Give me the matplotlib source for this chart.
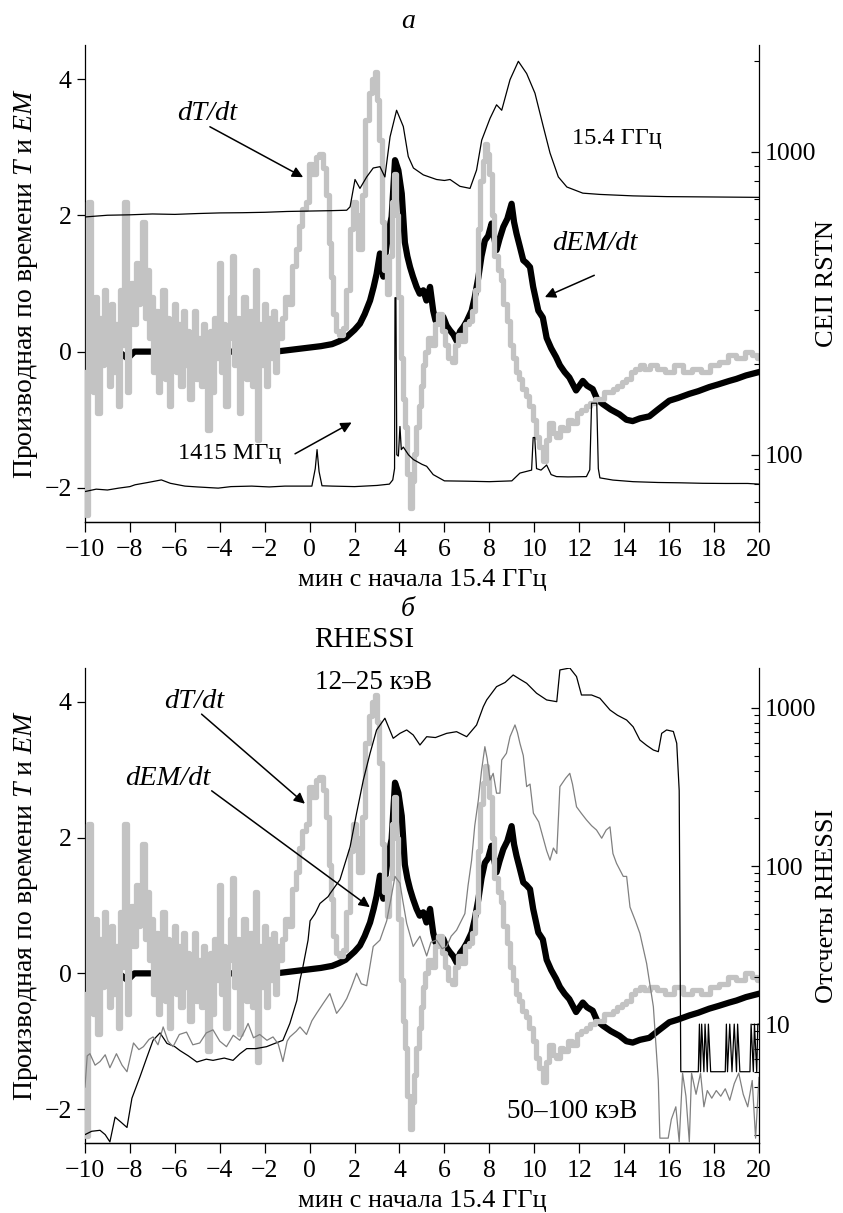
import numpy as np
import matplotlib.pyplot as plt

plt.rcParams['font.family'] = ['Liberation Serif', 'DejaVu Serif']
plt.rcParams['mathtext.fontset'] = 'custom'
plt.rcParams['mathtext.rm'] = 'Liberation Serif'
plt.rcParams['mathtext.it'] = 'Liberation Serif:italic'
plt.rcParams['font.size'] = 18.5
plt.rcParams['axes.linewidth'] = 0.9

# ---- dT/dt (left axis, both panels) ----
# noisy pre-flare part, one sample every 0.1 min from -10
dT_noise_t0, dT_noise_step = -10.0, 0.1
dT_noise = [-0.3, -2.4, 2.2, 0.2, -0.6, 0.8, -0.9, 0.5, -0.2, 0.9,
            0.3, -0.5, 0.7, -0.3, 0.4, -0.8, 0.9, 0.1, 2.2, -0.6,
            0.6, 1.0, 0.4, 1.3, 0.7, 1.1, 1.9, 0.5, 1.2, 0.2,
            0.8, -0.3, 0.6, -0.6, 0.3, 0.9, -0.4, 0.5, -0.8, 0.2,
            0.7, -0.3, 0.4, -0.5, 0.6, -0.2, 0.3, -0.7, 0.1, 0.6,
            -0.4, 0.2, -0.5, 0.4, -0.2, -1.15, 0.3, -0.6, 0.5, -0.1,
            1.3, -0.3, 0.4, -0.8, 0.2, 0.8, 1.4, -0.2, 0.5, -0.9,
            0.3, 0.8, -0.4, 0.2, 0.6, -0.5, 1.2, -1.3, 0.4, -0.2,
            0.7, -0.5, 0.5, -0.1, 0.6, -0.3, 0.4]
dT_t = [-1.3, -1.15, -1.0, -0.85, -0.7, -0.55, -0.4, -0.25, -0.1, 0.05,
        0.2, 0.35, 0.5, 0.65, 0.8, 0.9, 1.0, 1.1, 1.25, 1.4,
        1.55, 1.7, 1.85, 2.0, 2.1, 2.25, 2.4, 2.55, 2.7, 2.85,
        2.95, 3.05, 3.15, 3.25, 3.4, 3.5, 3.6, 3.7, 3.8, 3.9,
        4.0, 4.1, 4.2, 4.3, 4.4, 4.5, 4.6, 4.7, 4.8, 4.9,
        5.0, 5.1, 5.2, 5.35, 5.5, 5.65, 5.8, 5.95, 6.1, 6.25,
        6.4, 6.55, 6.7, 6.85, 7.0, 7.15, 7.3, 7.45, 7.55, 7.65,
        7.75, 7.85, 7.95, 8.05, 8.15, 8.3, 8.45, 8.55, 8.7, 8.85,
        9.0, 9.1, 9.25, 9.4, 9.55, 9.7, 9.85, 10.0, 10.15, 10.3,
        10.45, 10.6, 10.75, 10.9, 11.05, 11.2, 11.4, 11.6, 11.8, 12.0,
        12.2, 12.4, 12.6, 12.8, 13.0, 13.2, 13.4, 13.6, 13.8, 14.0,
        14.2, 14.4, 14.6, 14.8, 15.0, 15.3, 15.6, 16.0, 16.4, 16.8,
        17.2, 17.6, 18.0, 18.4, 18.8, 19.2, 19.6, 19.8, 20.0]
dT_v = [0.2, 0.5, 0.8, 0.7, 1.25, 1.5, 1.85, 2.1, 2.2, 2.75,
        2.6, 2.85, 2.9, 2.7, 2.3, 1.6, 1.1, 0.55, 0.3, 0.25,
        0.35, 0.9, 1.8, 2.2, 2.0, 1.5, 2.3, 3.4, 3.8, 4.0,
        4.1, 3.7, 3.1, 1.9, 1.2, 0.85, 1.4, 2.2, 2.6, 2.0,
        0.8, -0.1, -0.7, -1.1, -1.8, -2.3, -1.9, -1.5, -1.1, -0.8,
        -0.5, -0.2, 0.0, 0.2, 0.1, 0.4, 0.55, 0.3, 0.1, -0.1,
        -0.15, 0.1, 0.25, 0.15, 0.4, 0.45, 0.6, 0.9, 1.8, 2.5,
        2.8, 3.05, 2.9, 2.6, 2.0, 1.4, 1.2, 1.05, 0.7, 0.45,
        0.1, -0.1, -0.3, -0.4, -0.55, -0.65, -0.8, -1.0, -1.25, -1.4,
        -1.6, -1.3, -1.05, -1.2, -1.25, -1.1, -1.15, -1.0, -1.05, -0.9,
        -0.85, -0.8, -0.75, -0.7, -0.7, -0.6, -0.6, -0.55, -0.5, -0.45,
        -0.4, -0.3, -0.25, -0.2, -0.25, -0.2, -0.25, -0.3, -0.2, -0.3,
        -0.25, -0.3, -0.2, -0.15, -0.05, -0.1, 0.0, -0.05, -0.1]

# ---- dEM/dt (left axis, both panels) ----
dEM_t = [-9.5, -9.0, -8.5, -8.1, -7.8, -7.0, -6.0, -5.0, -4.0, -3.0,
         -2.0, -1.5, -1.0, -0.5, 0.0, 0.5, 1.0, 1.3, 1.6, 1.8,
         2.0, 2.24, 2.45, 2.69, 2.85, 2.98, 3.13, 3.28, 3.4, 3.5,
         3.65, 3.8, 3.95, 4.1, 4.24, 4.35, 4.47, 4.6, 4.76, 4.9,
         5.06, 5.2, 5.36, 5.5, 5.6, 5.8, 5.95, 6.1, 6.25, 6.4,
         6.54, 6.7, 6.84, 7.0, 7.21, 7.35, 7.51, 7.65, 7.8, 7.95,
         8.1, 8.2, 8.32, 8.45, 8.62, 8.8, 8.99, 9.1, 9.21, 9.35,
         9.51, 9.65, 9.81, 9.95, 10.18, 10.38, 10.55, 10.75, 10.97, 11.14,
         11.35, 11.56, 11.86, 12.16, 12.35, 12.6, 12.8, 13.05, 13.4, 13.79,
         14.1, 14.38, 14.7, 15.12, 15.5, 16.01, 16.4, 16.9, 17.3, 17.79,
         18.2, 18.68, 19.0, 19.42, 20.0]
dEM_v = [0.0, 0.0, 0.0, -0.1, 0.0, 0.0, 0.0, 0.0, 0.0, 0.0,
         0.0, 0.0, 0.02, 0.04, 0.06, 0.08, 0.11, 0.15, 0.2, 0.26,
         0.32, 0.41, 0.55, 0.75, 0.95, 1.14, 1.44, 1.1, 1.5, 1.73,
         1.98, 2.81, 2.66, 2.32, 1.6, 1.4, 1.24, 1.1, 0.95, 0.85,
         0.9, 0.75, 0.95, 0.6, 0.46, 0.45, 0.51, 0.38, 0.31, 0.25,
         0.16, 0.3, 0.36, 0.45, 0.6, 0.8, 1.09, 1.4, 1.63, 1.7,
         1.88, 1.7, 1.49, 1.65, 1.83, 1.95, 2.17, 1.9, 1.73, 1.55,
         1.34, 1.3, 1.24, 0.95, 0.6, 0.5, 0.2, 0.05, -0.08, -0.2,
         -0.3, -0.38, -0.57, -0.43, -0.5, -0.55, -0.7, -0.77, -0.85, -0.92,
         -1.0, -1.02, -0.98, -0.95, -0.85, -0.72, -0.68, -0.62, -0.58, -0.52,
         -0.48, -0.43, -0.4, -0.35, -0.3]

# ---- RSTN 15.4 GHz (right axis, sfu) ----
f15_t = [-10, -9, -8, -7, -6, -5, -4, -3, -2, -1,
         0, 1, 1.65, 1.8, 2.02, 2.24, 2.54, 2.83, 3.13, 3.35,
         3.58, 3.87, 4.17, 4.39, 4.62, 5.06, 5.65, 6.0, 6.25, 6.69,
         7.14, 7.43, 7.66, 8.03, 8.32, 8.55, 8.92, 9.29, 9.66, 10.03,
         10.4, 10.7, 11.07, 11.45, 12.16, 12.92, 14.4, 15.9, 18.0, 20.0]
f15_v = [610, 618, 620, 624, 622, 626, 629, 630, 632, 636,
         638, 640, 642, 659, 811, 758, 827, 885, 894, 827,
         1122, 1373, 1213, 966, 885, 840, 811, 805, 811, 770,
         758, 871, 1094, 1291, 1431, 1373, 1733, 1992, 1815, 1563,
         1213, 992, 827, 766, 731, 724, 716, 712, 710, 708]

# ---- RSTN 1415 MHz (right axis, sfu) ----
f1415_t = [-10, -9.5, -9, -8.5, -8, -7.77, -7.2, -6.6, -6.2, -5.55,
           -5, -4.07, -3.5, -2.58, -1.8, -1.1, 0.1, 0.25, 0.33, 0.42,
           0.55, 1.0, 2.0, 3.0, 3.55, 3.7, 3.78, 3.8, 3.84, 3.88,
           3.95, 4.02, 4.08, 4.17, 4.4, 4.62, 5.0, 5.21, 5.5, 6.0,
           7.0, 8.0, 9.0, 9.36, 9.88, 9.95, 10.02, 10.1, 10.3, 10.55,
           10.75, 10.99, 11.5, 12.32, 12.47, 12.55, 12.78, 12.85, 12.92, 13.5,
           14.4, 15.5, 16.5, 17.5, 18.5, 19.5, 20.0]
f1415_v = [75.6, 77, 76.5, 77.6, 78.5, 79.6, 81, 82.6, 80.5, 78.8,
           78.3, 77.6, 78.5, 78.8, 78.3, 78.8, 78.8, 90, 104, 88,
           79, 78.8, 78.5, 79.2, 80, 82.6, 90, 330, 330, 100,
           99, 124, 104, 106, 100, 96.4, 93, 91.6, 86, 82,
           81.8, 81.5, 82, 87, 89, 114, 114, 90, 89, 92.5,
           86, 84.7, 84.5, 84.7, 89.2, 148, 148, 90, 83.9, 82.5,
           81.5, 81, 80.8, 80.5, 80.4, 80.4, 80]

# ---- RHESSI 12-25 keV (right axis, counts) ----
r12_t = [-10, -9.7, -9.33, -9.1, -8.89, -8.66, -8.4, -8.13, -7.91, -7.55,
         -7.24, -6.97, -6.66, -6.35, -6.0, -5.77, -5.4, -5.02, -4.6, -4.3,
         -3.8, -3.41, -3.1, -2.8, -2.4, -1.92, -1.5, -1.19, -0.88, -0.57,
         -0.43, -0.3, -0.07, 0.02, 0.24, 0.46, 0.82, 0.91, 1.35, 1.8,
         2.09, 2.39, 2.69, 2.98, 3.35, 3.72, 4.02, 4.32, 4.61, 4.91,
         5.21, 5.6, 6.1, 6.54, 6.99, 7.43, 7.73, 7.88, 8.32, 8.7,
         9.06, 9.36, 9.66, 10.1, 10.55, 11.0, 11.14, 11.58, 11.88, 12.1,
         12.55, 12.92, 13.37, 13.7, 14.11, 14.4, 14.7, 15.0, 15.3, 15.52,
         15.67, 15.89, 16.19, 16.34, 16.45, 16.52, 17.3, 17.35, 17.4, 17.45,
         17.55, 17.6, 17.7, 17.75, 17.85, 18.5, 18.55, 18.6, 18.7, 18.8,
         18.9, 19.0, 19.05, 19.15, 19.6, 19.65, 19.75, 19.8, 19.9, 19.95,
         20.0]
r12_v = [2.0, 2.1, 2.13, 2.0, 1.8, 2.58, 2.4, 2.22, 3.4, 4.65,
         6.19, 7.9, 8.8, 7.55, 7.2, 6.8, 6.3, 5.76, 6.0, 5.9,
         6.1, 5.9, 6.5, 7.0, 7.0, 7.2, 7.6, 7.9, 10.1, 14.1,
         19, 23, 34, 45, 50, 58, 64, 67, 82, 132,
         216, 350, 517, 726, 861, 643, 691, 726, 675, 583,
         658, 650, 691, 708, 658, 780, 1019, 1124, 1364, 1450,
         1617, 1520, 1433, 1240, 1124, 1096, 1740, 1790, 1580, 1208,
         1208, 1152, 971, 900, 839, 760, 627, 580, 542, 529,
         691, 726, 710, 598, 300, 5, 5, 10, 5, 10,
         5, 10, 5, 10, 5, 5, 10, 5, 10, 5,
         10, 5, 10, 5, 5, 10, 5, 10, 5, 10,
         10]

# ---- RHESSI 50-100 keV (right axis, counts) ----
r50_t = [-10, -9.9, -9.78, -9.55, -9.33, -9.1, -8.89, -8.6, -8.35, -8.13,
         -7.84, -7.6, -7.4, -7.15, -6.97, -6.75, -6.52, -6.3, -6.08, -5.8,
         -5.48, -5.2, -4.89, -4.6, -4.3, -4.0, -3.7, -3.4, -3.11, -2.9,
         -2.74, -2.5, -2.22, -1.9, -1.63, -1.4, -1.19, -1.0, -0.88, -0.6,
         -0.43, -0.14, 0.1, 0.31, 0.6, 0.9, 1.2, 1.45, 1.65, 1.85,
         2.09, 2.3, 2.54, 2.83, 3.13, 3.43, 3.6, 3.8, 4.02, 4.15,
         4.32, 4.61, 4.91, 5.21, 5.4, 5.65, 5.9, 6.1, 6.3, 6.54,
         6.75, 6.91, 7.05, 7.21, 7.35, 7.51, 7.65, 7.8, 7.9, 8.03,
         8.17, 8.32, 8.47, 8.55, 8.76, 8.92, 9.14, 9.25, 9.36, 9.51,
         9.66, 9.81, 9.96, 10.2, 10.4, 10.55, 10.7, 10.85, 11.0, 11.14,
         11.4, 11.58, 11.7, 11.88, 12.1, 12.32, 12.55, 12.77, 13.0, 13.2,
         13.37, 13.5, 13.66, 13.96, 14.11, 14.26, 14.5, 14.7, 15.0, 15.3,
         15.52, 15.59, 15.96, 16.1, 16.3, 16.45, 16.6, 16.75, 16.9, 17.0,
         17.2, 17.4, 17.55, 17.7, 17.9, 18.1, 18.3, 18.5, 18.7, 18.9,
         19.1, 19.3, 19.5, 19.7, 19.85, 20.0]
r50_v = [4.0, 6.3, 6.5, 5.5, 5.8, 6.4, 5.3, 6.5, 5.5, 5.0,
         7.6, 6.9, 7.2, 8.0, 8.3, 7.4, 9.6, 7.8, 7.2, 8.6,
         8.9, 7.4, 7.6, 8.8, 9.2, 7.8, 7.2, 8.5, 7.9, 9.0,
         10.1, 8.2, 8.6, 7.9, 8.3, 7.5, 5.8, 7.8, 8.3, 9.0,
         9.6, 8.6, 10.5, 11.7, 13.5, 15.6, 11.7, 13.0, 14.5, 17,
         21, 18, 17.5, 31, 34, 45, 60, 86, 78, 60,
         43.4, 31, 36, 27, 33, 34, 30, 31, 36, 39.3,
         45, 50, 75, 109, 180, 262, 400, 569, 480, 350,
         386, 289, 289, 469, 517, 658, 781, 700, 598, 500,
         318, 330, 216, 190, 150, 125, 109, 130, 120, 318,
         360, 386, 330, 237, 215, 196, 180, 169, 150, 169,
         177, 120, 104, 86, 86, 55, 45, 37.5, 24.2, 12.9,
         4.4, 1.9, 1.9, 2.5, 3.0, 1.8, 4.9, 3.5, 1.8, 4.9,
         3.6, 4.9, 3.0, 3.8, 3.4, 3.8, 3.5, 3.9, 3.3, 4.2,
         4.9, 3.6, 3.0, 4.4, 1.9, 4.6]

xticks = list(range(-10, 21, 2))
LGRAY = '#c3c3c3'
MGRAY = '#808080'

# time grid of the noisy part (sampling positions only)
dT_time = np.concatenate([dT_noise_t0 + dT_noise_step * np.arange(len(dT_noise)), dT_t])
dT_vals = np.concatenate([dT_noise, dT_v])

fig = plt.figure(figsize=(8.43, 12.13), dpi=100)
W, H = 843, 1213


def fpos(px, py):
    return px / W, 1 - py / H


def setup(ax, ax2):
    ax.set_xlim(-10, 20)
    ax.set_ylim(-2.5, 4.5)
    ax.set_xticks(xticks)
    ax.set_yticks([-2, 0, 2, 4])
    for a in (ax, ax2):
        a.spines['top'].set_visible(False)
    ax.spines['right'].set_visible(False)
    ax2.spines['left'].set_visible(False)
    ax.tick_params(axis='y', direction='out', length=6, width=0.9)
    ax.tick_params(axis='x', direction='out', length=7, width=0.9, pad=5)
    ax2.set_yscale('log')
    ax2.tick_params(axis='y', which='major', direction='in', length=6, width=0.9, pad=4)
    ax2.tick_params(axis='y', which='minor', direction='in', length=3.5, width=0.8)
    ax.set_ylabel('Производная по времени $T$ и $EM$', fontsize=20, labelpad=3)
    ax.set_xlabel('мин с начала 15.4 ГГц', fontsize=19, labelpad=6)
    ax.plot(dEM_t, dEM_v, color='black', lw=4.5, zorder=2)
    ax.plot(dT_time, dT_vals, color=LGRAY, lw=3.8, drawstyle='steps-mid', zorder=3)


arrow = dict(arrowstyle='-|>', color='black', lw=1.1, mutation_scale=16,
             shrinkA=0, shrinkB=0)

# ---------- panel a ----------
ax = fig.add_axes([0.1008, 0.5697, 0.7995, 0.3932])
ax2 = ax.twinx()
setup(ax, ax2)
ax2.set_ylim(60, 2255)
ax2.plot(f15_t, f15_v, color='black', lw=0.9)
ax2.plot(f1415_t, f1415_v, color='black', lw=0.9)
ax2.set_yticks([100, 1000])
ax2.set_yticklabels(['100', '1000'])
ax2.set_ylabel('СЕП RSTN', fontsize=19, labelpad=0)

ax.text(-4.57, 3.49, 'dT/dt', style='italic', fontsize=20.5, ha='center', va='center')
ax.annotate('', xy=(-0.29, 2.56), xytext=(-4.44, 3.30), arrowprops=arrow)
ax.text(13.68, 3.13, '15.4 ГГц', fontsize=17.5, ha='center', va='center')
ax.text(12.70, 1.59, 'dEM/dt', style='italic', fontsize=20.5, ha='center', va='center')
ax.annotate('', xy=(10.47, 0.80), xytext=(12.67, 1.12), arrowprops=arrow)
ax.text(-3.55, -1.50, '1415 МГц', fontsize=17.5, ha='center', va='center')
ax.annotate('', xy=(1.87, -1.04), xytext=(-0.65, -1.50), arrowprops=arrow)
fig.text(*fpos(408, 21), 'а', style='italic', fontsize=20, ha='center', va='center')

# ---------- panel б ----------
bx = fig.add_axes([0.1008, 0.0577, 0.7995, 0.3916])
bx2 = bx.twinx()
setup(bx, bx2)
bx2.set_ylim(1.77, 1790)
bx2.plot(r12_t, r12_v, color='black', lw=0.9)
bx2.plot(r50_t, r50_v, color=MGRAY, lw=0.9)
bx2.set_yticks([10, 100, 1000])
bx2.set_yticklabels(['10', '100', '1000'])
bx2.set_ylabel('Отсчеты RHESSI', fontsize=19, labelpad=0)

bx.text(-5.15, 4.01, 'dT/dt', style='italic', fontsize=20.5, ha='center', va='center')
bx.annotate('', xy=(-0.21, 2.50), xytext=(-4.81, 3.82), arrowprops=arrow)
bx.text(-6.31, 2.87, 'dEM/dt', style='italic', fontsize=20.5, ha='center', va='center')
bx.annotate('', xy=(2.68, 0.975), xytext=(-4.36, 2.69), arrowprops=arrow)
bx.text(2.42, 4.91, 'RHESSI', fontsize=21, ha='center', va='center')
bx.text(2.86, 4.29, '12–25 кэВ', fontsize=19.5, ha='center', va='center')
bx.text(11.67, -2.03, '50–100 кэВ', fontsize=19.5, ha='center', va='center')
fig.text(*fpos(408, 609), 'б', style='italic', fontsize=20, ha='center', va='center')

fig.savefig('out.png', dpi=100)
